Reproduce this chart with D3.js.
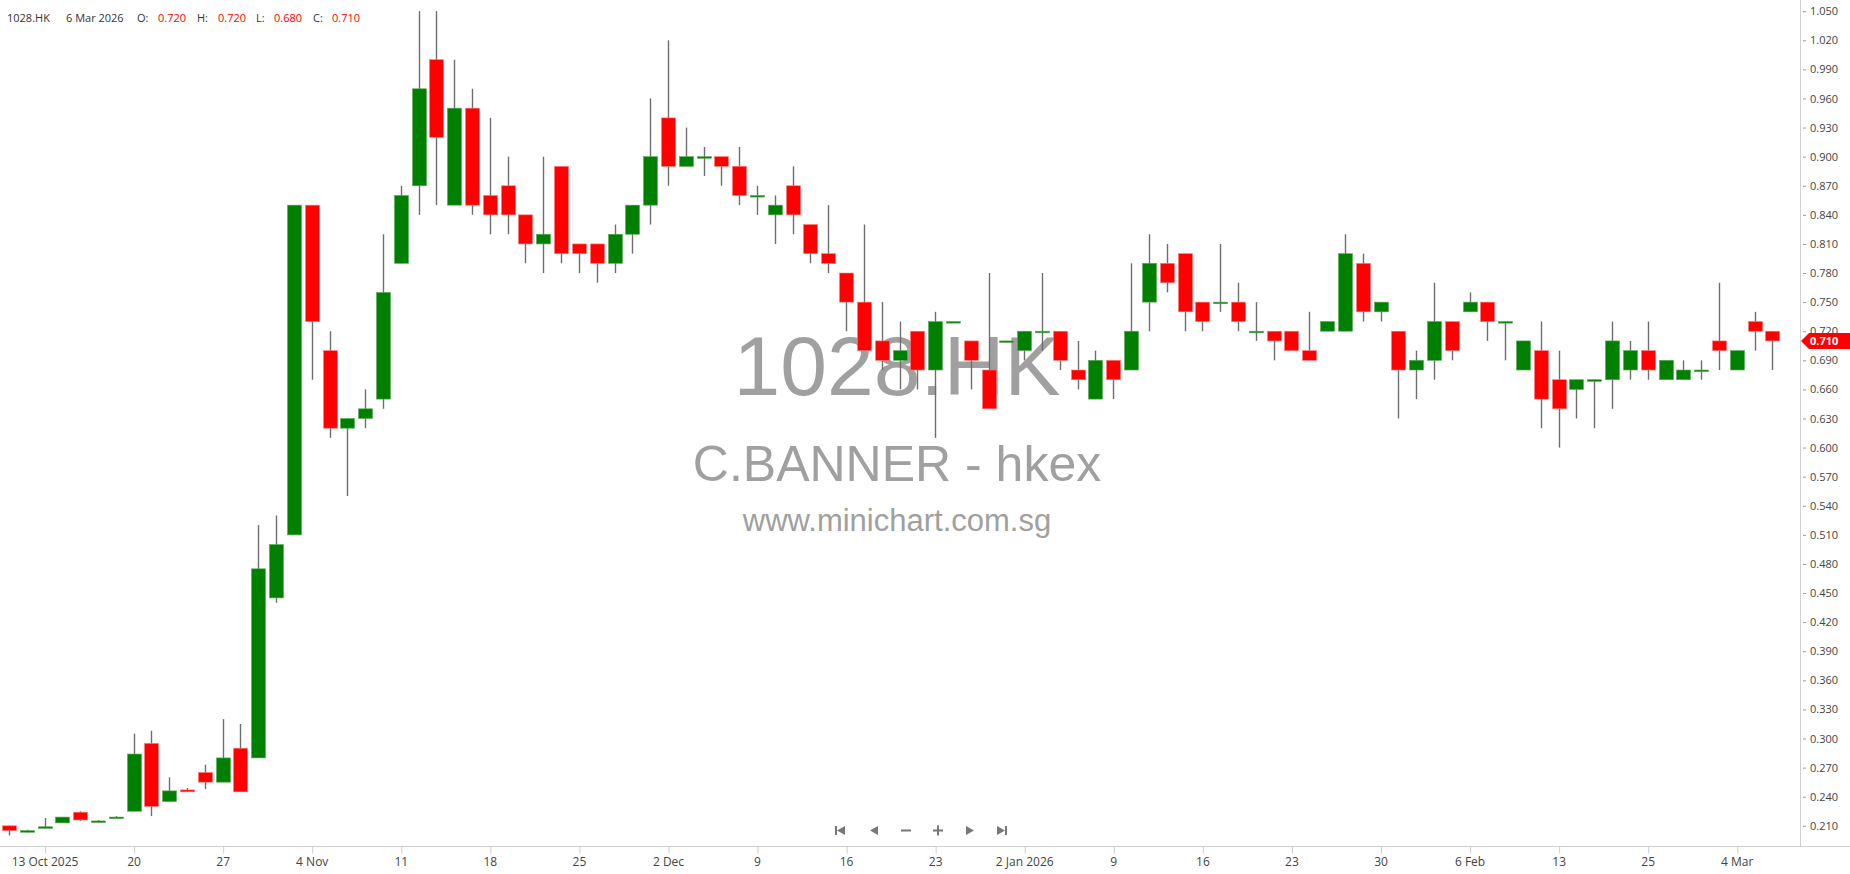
<!DOCTYPE html>
<html>
<head>
<meta charset="utf-8">
<script src="https://cdn.jsdelivr.net/npm/d3@7"></script>
<style>
  html, body { margin: 0; padding: 0; background: #fff; overflow: hidden; }
  svg { display: block; font-family: "Open Sans", sans-serif; }
  .watermark { font-family: "Liberation Sans", Arial, sans-serif; fill: #a0a0a0; text-anchor: middle; }
  .axis text { fill: #444; }
</style>
</head>
<body>
<div id="chart"></div>
<script>
const symbol = '1028.HK';
const company = 'C.BANNER - hkex';
const site = 'www.minichart.com.sg';

// trading days, 9 Oct 2025 .. 6 Mar 2026
const dates = [
  "2025-10-09", "2025-10-10", "2025-10-13", "2025-10-14", "2025-10-15", "2025-10-16", "2025-10-17",
  "2025-10-20", "2025-10-21", "2025-10-22", "2025-10-23", "2025-10-24",
  "2025-10-27", "2025-10-28", "2025-10-30", "2025-10-31", "2025-11-03",
  "2025-11-04", "2025-11-05", "2025-11-06", "2025-11-07", "2025-11-10",
  "2025-11-11", "2025-11-12", "2025-11-13", "2025-11-14", "2025-11-17",
  "2025-11-18", "2025-11-19", "2025-11-20", "2025-11-21", "2025-11-24",
  "2025-11-25", "2025-11-26", "2025-11-27", "2025-11-28", "2025-12-01",
  "2025-12-02", "2025-12-03", "2025-12-04", "2025-12-05", "2025-12-08",
  "2025-12-09", "2025-12-10", "2025-12-11", "2025-12-12", "2025-12-15",
  "2025-12-16", "2025-12-17", "2025-12-18", "2025-12-19", "2025-12-22",
  "2025-12-23", "2025-12-24", "2025-12-29", "2025-12-30", "2025-12-31",
  "2026-01-02", "2026-01-05", "2026-01-06", "2026-01-07", "2026-01-08",
  "2026-01-09", "2026-01-12", "2026-01-13", "2026-01-14", "2026-01-15",
  "2026-01-16", "2026-01-19", "2026-01-20", "2026-01-21", "2026-01-22",
  "2026-01-23", "2026-01-26", "2026-01-27", "2026-01-28", "2026-01-29",
  "2026-01-30", "2026-02-02", "2026-02-03", "2026-02-04", "2026-02-05",
  "2026-02-06", "2026-02-09", "2026-02-10", "2026-02-11", "2026-02-12",
  "2026-02-13", "2026-02-16", "2026-02-20", "2026-02-23", "2026-02-24",
  "2026-02-25", "2026-02-26", "2026-02-27", "2026-03-02", "2026-03-03",
  "2026-03-04", "2026-03-05", "2026-03-06"
];

const opens = [
  0.210, 0.204, 0.208, 0.213, 0.224, 0.214, 0.218, 0.225, 0.295, 0.235,
  0.247, 0.265, 0.255, 0.290, 0.280, 0.445, 0.510, 0.850, 0.700, 0.620,
  0.630, 0.650, 0.790, 0.870, 1.000, 0.850, 0.950, 0.860, 0.870, 0.840,
  0.810, 0.890, 0.810, 0.810, 0.790, 0.820, 0.850, 0.940, 0.890, 0.900,
  0.900, 0.890, 0.860, 0.840, 0.870, 0.830, 0.800, 0.780, 0.750, 0.710,
  0.690, 0.720, 0.680, 0.730, 0.710, 0.680, 0.710, 0.700, 0.720, 0.720,
  0.680, 0.650, 0.690, 0.680, 0.750, 0.790, 0.800, 0.750, 0.750, 0.750,
  0.720, 0.720, 0.720, 0.700, 0.720, 0.720, 0.790, 0.740, 0.720, 0.680,
  0.690, 0.730, 0.740, 0.750, 0.730, 0.680, 0.700, 0.670, 0.660, 0.670,
  0.670, 0.680, 0.700, 0.670, 0.670, 0.680, 0.710, 0.680, 0.730, 0.720
];
const highs = [
  0.210, 0.206, 0.218, 0.219, 0.225, 0.216, 0.220, 0.305, 0.308, 0.260,
  0.249, 0.273, 0.320, 0.315, 0.520, 0.530, 0.850, 0.850, 0.720, 0.630,
  0.660, 0.820, 0.870, 1.050, 1.050, 1.000, 0.970, 0.940, 0.900, 0.840,
  0.900, 0.890, 0.810, 0.810, 0.830, 0.850, 0.960, 1.020, 0.930, 0.910,
  0.900, 0.910, 0.870, 0.860, 0.890, 0.830, 0.850, 0.780, 0.830, 0.750,
  0.730, 0.720, 0.740, 0.730, 0.710, 0.780, 0.710, 0.720, 0.780, 0.720,
  0.710, 0.700, 0.690, 0.790, 0.820, 0.810, 0.800, 0.750, 0.810, 0.770,
  0.750, 0.720, 0.720, 0.740, 0.730, 0.820, 0.800, 0.750, 0.720, 0.700,
  0.770, 0.730, 0.760, 0.750, 0.730, 0.710, 0.730, 0.700, 0.670, 0.670,
  0.730, 0.710, 0.730, 0.690, 0.690, 0.690, 0.770, 0.700, 0.740, 0.720
];
const lows = [
  0.200, 0.203, 0.208, 0.213, 0.215, 0.214, 0.218, 0.225, 0.220, 0.235,
  0.245, 0.248, 0.255, 0.245, 0.280, 0.440, 0.510, 0.670, 0.610, 0.550,
  0.620, 0.640, 0.790, 0.840, 0.850, 0.850, 0.840, 0.820, 0.820, 0.790,
  0.780, 0.790, 0.780, 0.770, 0.780, 0.800, 0.830, 0.870, 0.890, 0.880,
  0.870, 0.850, 0.840, 0.810, 0.820, 0.790, 0.780, 0.720, 0.700, 0.680,
  0.660, 0.660, 0.610, 0.730, 0.660, 0.640, 0.710, 0.690, 0.700, 0.680,
  0.660, 0.650, 0.650, 0.680, 0.720, 0.760, 0.720, 0.720, 0.740, 0.720,
  0.710, 0.690, 0.700, 0.690, 0.720, 0.720, 0.730, 0.730, 0.630, 0.650,
  0.670, 0.690, 0.740, 0.710, 0.690, 0.680, 0.620, 0.600, 0.630, 0.620,
  0.640, 0.670, 0.670, 0.670, 0.670, 0.670, 0.680, 0.680, 0.700, 0.680
];
const closes = [
  0.205, 0.205, 0.209, 0.219, 0.216, 0.215, 0.219, 0.284, 0.230, 0.246,
  0.245, 0.255, 0.280, 0.245, 0.475, 0.500, 0.850, 0.730, 0.620, 0.630,
  0.640, 0.760, 0.860, 0.970, 0.920, 0.950, 0.850, 0.840, 0.840, 0.810,
  0.820, 0.800, 0.800, 0.790, 0.820, 0.850, 0.900, 0.890, 0.900, 0.900,
  0.890, 0.860, 0.860, 0.850, 0.840, 0.800, 0.790, 0.750, 0.700, 0.690,
  0.700, 0.680, 0.730, 0.730, 0.690, 0.640, 0.710, 0.720, 0.720, 0.690,
  0.670, 0.690, 0.670, 0.720, 0.790, 0.770, 0.740, 0.730, 0.750, 0.730,
  0.720, 0.710, 0.700, 0.690, 0.730, 0.800, 0.740, 0.750, 0.680, 0.690,
  0.730, 0.700, 0.750, 0.730, 0.730, 0.710, 0.650, 0.640, 0.670, 0.670,
  0.710, 0.700, 0.680, 0.690, 0.680, 0.680, 0.700, 0.700, 0.720, 0.710
];

// price axis: 0.210 .. 1.050 every 0.030
const priceTicks = d3.range(7, 36).map(k => +(k * 0.03).toFixed(3));

const width = 1850;
const height = 874;
const plotRight = 1800;
const plotBottom = 846.5;

const upColor = '#008000';
const downColor = '#ff0000';
const wickColor = '#6e6e6e';

const candles = dates.map((d, i) => ({
  i,
  date: d3.timeParse('%Y-%m-%d')(d),
  open: opens[i],
  high: highs[i],
  low: lows[i],
  close: closes[i]
}));

const x = d3.scaleLinear()
  .domain([-0.5, candles.length + 0.55])
  .range([0, plotRight]);

const y = d3.scaleLinear()
  .domain([0.21, 1.05])
  .range([825.8, 11.2]);

const svg = d3.select('#chart').append('svg')
  .attr('width', width)
  .attr('height', height);

// watermark
const wm = svg.append('g').attr('class', 'watermark');
wm.append('text').attr('x', 897).attr('y', 395).attr('font-size', 84).text(symbol);
wm.append('text').attr('x', 897).attr('y', 481).attr('font-size', 50).text(company);
wm.append('text').attr('x', 897).attr('y', 531).attr('font-size', 31).text(site);

// candles
const bodyW = 14;
const cg = svg.append('g').attr('class', 'candles');

cg.selectAll('line')
  .data(candles)
  .join('line')
  .attr('x1', d => Math.round(x(d.i)) + 0.5)
  .attr('x2', d => Math.round(x(d.i)) + 0.5)
  .attr('y1', d => y(d.high))
  .attr('y2', d => y(d.low))
  .attr('stroke', wickColor)
  .attr('stroke-width', 1.4);

cg.selectAll('rect')
  .data(candles)
  .join('rect')
  .attr('x', d => Math.round(x(d.i)) + 0.5 - bodyW / 2)
  .attr('width', bodyW)
  .attr('y', d => y(Math.max(d.open, d.close)))
  .attr('height', d => Math.max(1.6, Math.abs(y(d.open) - y(d.close))))
  .attr('fill', d => d.close >= d.open ? upColor : downColor)
  .attr('stroke', d => d.close >= d.open ? '#5aa85a' : '#ff7a7a')
  .attr('stroke-width', 0.6);

// x axis
const fmtDay = d3.timeFormat('%-d');
const fmtMonth = d3.timeFormat('%-d %b');
const fmtYear = d3.timeFormat('%-d %b %Y');
const xTicks = d3.range(2, candles.length, 5);

function dateLabel(i, k) {
  const d = candles[i].date;
  const prev = k > 0 ? candles[xTicks[k - 1]].date : null;
  if (!prev || prev.getFullYear() !== d.getFullYear()) return fmtYear(d);
  if (prev.getMonth() !== d.getMonth()) return fmtMonth(d);
  return fmtDay(d);
}

svg.append('line')
  .attr('x1', 0).attr('x2', width)
  .attr('y1', plotBottom).attr('y2', plotBottom)
  .attr('stroke', '#cfcfcf');

const xAxis = svg.append('g')
  .attr('class', 'x axis')
  .attr('transform', `translate(0,${plotBottom})`)
  .call(d3.axisBottom(x).tickValues(xTicks).tickFormat(dateLabel).tickSize(7).tickPadding(4));
xAxis.select('.domain').remove();
xAxis.selectAll('.tick line').attr('stroke', '#cfcfcf')
  .attr('transform', function () { return 'translate(0.5,0)'; });
xAxis.selectAll('.tick text').attr('font-size', 12).attr('font-family', '"Open Sans", sans-serif');

// y axis
svg.append('line')
  .attr('x1', plotRight + 0.5).attr('x2', plotRight + 0.5)
  .attr('y1', 0).attr('y2', plotBottom)
  .attr('stroke', '#cfcfcf');

const yAxis = svg.append('g')
  .attr('class', 'y axis')
  .attr('transform', `translate(${plotRight},0)`)
  .call(d3.axisRight(y).tickValues(priceTicks).tickFormat(d3.format('.3f')).tickSize(6).tickPadding(4));
yAxis.select('.domain').remove();
yAxis.selectAll('.tick line').attr('x1', 3).attr('stroke', '#999');
yAxis.selectAll('.tick text').attr('font-size', 11).attr('font-family', '"Open Sans", sans-serif');

// last price marker
const last = candles[candles.length - 1];
const ly = y(last.close);
svg.append('path')
  .attr('d', `M${plotRight + 1},${ly} L${plotRight + 9},${ly - 8} L${width},${ly - 8} L${width},${ly + 8} L${plotRight + 9},${ly + 8} Z`)
  .attr('fill', last.close >= last.open ? upColor : downColor);
svg.append('text')
  .attr('x', plotRight + 10)
  .attr('y', ly + 4)
  .attr('font-size', 11)
  .attr('font-weight', 'bold')
  .attr('fill', '#fff')
  .text(d3.format('.3f')(last.close));

// header
const fmt3 = d3.format('.3f');
const header = [
  { t: symbol, x: 7, c: '#333' },
  { t: d3.timeFormat('%-d %b %Y')(last.date), x: 66, c: '#333' },
  { t: 'O:', x: 137, c: '#333' },
  { t: fmt3(last.open), x: 158, c: '#f00' },
  { t: 'H:', x: 197, c: '#333' },
  { t: fmt3(last.high), x: 218, c: '#f00' },
  { t: 'L:', x: 256, c: '#333' },
  { t: fmt3(last.low), x: 274, c: '#f00' },
  { t: 'C:', x: 313, c: '#333' },
  { t: fmt3(last.close), x: 332, c: '#f00' }
];
svg.append('g').selectAll('text')
  .data(header)
  .join('text')
  .attr('x', d => d.x)
  .attr('y', 22)
  .attr('font-size', 11)
  .attr('fill', d => d.c)
  .text(d => d.t);

// navigation buttons
const nav = svg.append('g').attr('fill', '#777').attr('transform', 'translate(0,830.5)');
const navX = [840, 874, 906, 938, 970, 1002];
nav.append('rect').attr('x', navX[0] - 5).attr('y', -4.5).attr('width', 2).attr('height', 9);
nav.append('path').attr('d', `M${navX[0] - 3},0 L${navX[0] + 5},-4.5 L${navX[0] + 5},4.5 Z`);
nav.append('path').attr('d', `M${navX[1] - 4},0 L${navX[1] + 4},-4.5 L${navX[1] + 4},4.5 Z`);
nav.append('rect').attr('x', navX[2] - 5).attr('y', -1).attr('width', 10).attr('height', 2);
nav.append('rect').attr('x', navX[3] - 5).attr('y', -1).attr('width', 10).attr('height', 2);
nav.append('rect').attr('x', navX[3] - 1).attr('y', -5).attr('width', 2).attr('height', 10);
nav.append('path').attr('d', `M${navX[4] + 4},0 L${navX[4] - 4},-4.5 L${navX[4] - 4},4.5 Z`);
nav.append('path').attr('d', `M${navX[5] + 3},0 L${navX[5] - 5},-4.5 L${navX[5] - 5},4.5 Z`);
nav.append('rect').attr('x', navX[5] + 3).attr('y', -4.5).attr('width', 2).attr('height', 9);
</script>
</body>
</html>
